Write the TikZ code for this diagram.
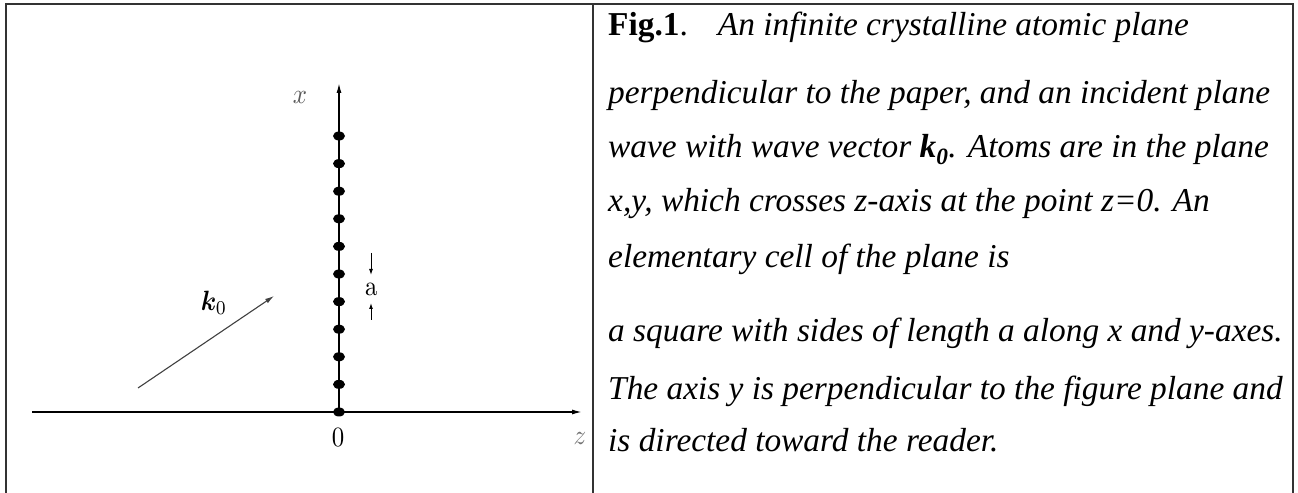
\documentclass[tikz,border=0pt]{standalone}
\usepackage{graphicx}
\usepackage[no-math]{fontspec}
\setmainfont{Liberation Serif}
\usepackage{bm}
\usetikzlibrary{arrows.meta,shapes.geometric}
\newcommand{\biglab}[1]{\scalebox{2.5}[2.8]{#1}}
\begin{document}
\begin{tikzpicture}[x=1bp,y=-1bp,
  tframe/.style={line width=1.8bp, draw=black!80},
  axisline/.style={line width=1.4bp, -{Latex[length=10bp,width=5bp]}},
  smallarrow/.style={line width=1bp, -{Latex[length=6bp,width=4bp]}},
  wavearrow/.style={line width=1.1bp, draw=black!75, -{Latex[length=9bp,width=5bp]}},
  atom/.style={ellipse, fill=black, minimum width=12bp, minimum height=9bp, inner sep=0},
  lab/.style={inner sep=0},
  captext/.style={font=\fontsize{33.5}{40}\selectfont\itshape, anchor=base west, inner sep=0}
]
\useasboundingbox (0,0) rectangle (1298,493);
% table frame
\draw[tframe] (6,493) -- (6,4) -- (1293,4) -- (1293,493);
\draw[tframe] (593,4) -- (593,493);
% axes
\coordinate (O) at (339,412);
\coordinate (xt) at (339,83);
\coordinate (zs) at (32,412);
\coordinate (zt) at (582,412);
\draw[axisline] (zs) -- (zt);
\draw[axisline] (O) -- (xt);
% atoms
\foreach \i in {0,...,10} \node[atom] (d\i) at (339,412-27.6*\i) {};
% labels
\node[lab, text=black!65] (xl) at (300,97) {\biglab{$x$}};
\node[lab] (zero) at (338,438) {\biglab{$0$}};
\node[lab, text=black!55] (zl) at (580,438) {\biglab{$z$}};
\node[lab] (al) at (371,289) {\biglab{$\mathrm{a}$}};
\node[lab] (kl) at (214,303) {\biglab{$\bm{k}_0$}};
% lattice constant marks
\coordinate (a1s) at (371,253);
\coordinate (a1e) at (371,275);
\coordinate (a2s) at (371,320);
\coordinate (a2e) at (371,303);
\draw[smallarrow] (a1s) -- (a1e);
\draw[smallarrow] (a2s) -- (a2e);
% incident wave vector
\coordinate (ks) at (138,388);
\coordinate (kt) at (274,296);
\draw[wavearrow] (ks) -- (kt);
% caption
\node[captext] (l1) at (608,36) {{\upshape\bfseries Fig.1}{\upshape .}\hspace{30bp}An infinite crystalline atomic plane};
\node[captext] (l2) at (608,104) {perpendicular to the paper, and an incident plane};
\node[captext] (l3) at (608,158) {wave with wave vector {\bfseries k\textsubscript{0}}. Atoms are in the plane};
\node[captext] (l4) at (608,212) {x,y, which crosses z-axis at the point z=0. An};
\node[captext] (l5) at (608,268) {elementary cell of the plane is};
\node[captext] (l6) at (608,342) {a square with sides of length a along x and y-axes.};
\node[captext] (l7) at (608,399) {The axis y is perpendicular to the figure plane and};
\node[captext] (l8) at (608,451) {is directed toward the reader.};
\end{tikzpicture}
\end{document}
